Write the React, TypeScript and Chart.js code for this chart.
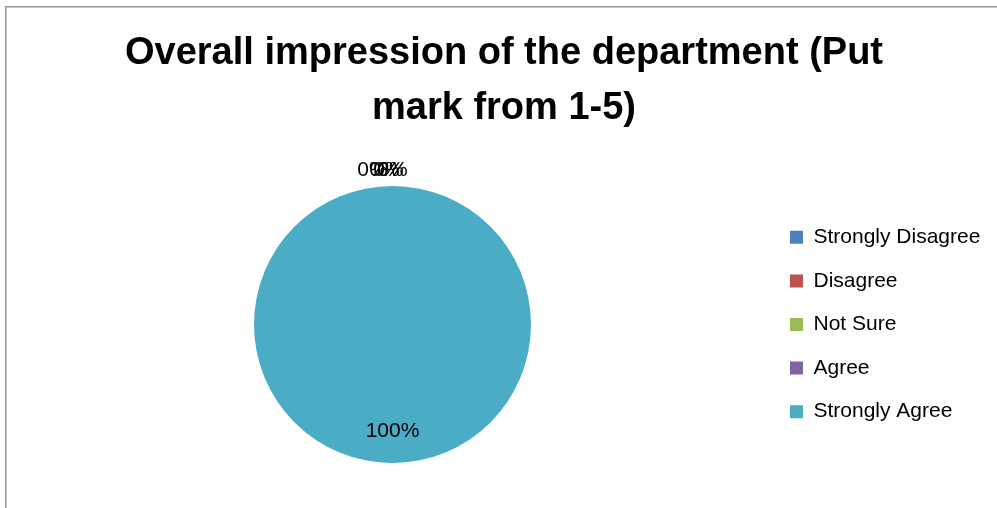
import React, { useEffect, useRef } from "react";
import { Chart, registerables } from "chart.js";

Chart.register(...registerables);

const categories = ["Strongly Disagree", "Disagree", "Not Sure", "Agree", "Strongly Agree"];
const values = [0, 0, 0, 0, 100];
const colors = ["#4F81BD", "#C0504D", "#9BBB59", "#8064A2", "#4BACC6"];
const titleLines = ["Overall impression of the department (Put", "mark from 1-5)"];

const FONT = "'Liberation Sans', Arial, sans-serif";

const borderPlugin = {
  id: "frameBorder",
  beforeDraw(chart: any) {
    const ctx = chart.ctx;
    ctx.save();
    ctx.fillStyle = "#ffffff";
    ctx.fillRect(0, 0, chart.width, chart.height);
    ctx.strokeStyle = "#959595";
    ctx.lineWidth = 1.5;
    ctx.beginPath();
    ctx.moveTo(0.75, chart.height);
    ctx.lineTo(0.75, 0.75);
    ctx.lineTo(chart.width, 0.75);
    ctx.stroke();
    ctx.restore();
  },
};

const zeroNudge = [-20, -8, -4, 0, 0];

const labelPlugin = {
  id: "pctLabels",
  afterDatasetsDraw(chart: any) {
    const ctx = chart.ctx;
    const meta = chart.getDatasetMeta(0);
    const data = chart.data.datasets[0].data as number[];
    const total = data.reduce((a, b) => a + b, 0);
    ctx.save();
    ctx.font = `21px ${FONT}`;
    ctx.fillStyle = "#000000";
    ctx.textAlign = "center";
    ctx.textBaseline = "middle";
    let zi = 0;
    meta.data.forEach((arc: any, i: number) => {
      const v = data[i];
      const pct = Math.round((v / total) * 100) + "%";
      const { x, y, startAngle, endAngle, outerRadius } = arc.getProps(
        ["x", "y", "startAngle", "endAngle", "outerRadius"],
        true
      );
      const mid = (startAngle + endAngle) / 2;
      if (v > 0) {
        const r = outerRadius * 0.77;
        ctx.fillText(pct, x + Math.cos(mid) * r, y + Math.sin(mid) * r);
      } else {
        const r = outerRadius + 16;
        ctx.fillText(pct, x + Math.cos(mid) * r + zeroNudge[zi], y + Math.sin(mid) * r);
        zi++;
      }
    });
    ctx.restore();
  },
};

export default function App() {
  const ref = useRef<HTMLCanvasElement | null>(null);
  useEffect(() => {
    if (!ref.current) return;
    const chart = new Chart(ref.current, {
      type: "pie",
      data: {
        labels: categories,
        datasets: [
          {
            data: values,
            backgroundColor: colors,
            borderWidth: 0,
            hoverOffset: 0,
          },
        ],
      },
      options: {
        responsive: false,
        animation: false,
        devicePixelRatio: 1,
        layout: { padding: { left: 12.6, right: 14.6, top: 0, bottom: 53 } },
        plugins: {
          title: {
            display: true,
            text: titleLines,
            color: "#000000",
            font: { family: FONT, size: 38, weight: "bold", lineHeight: 55 / 38 },
            padding: { top: 20.5, bottom: 49.5 },
          },
          legend: {
            display: true,
            position: "right",
            fullSize: false,
            labels: {
              boxWidth: 13,
              boxHeight: 13,
              padding: 22.6,
              color: "#000000",
              font: { family: FONT, size: 21 },
            },
          },
          tooltip: { enabled: false },
        },
      },
      plugins: [borderPlugin, labelPlugin],
    });
    return () => chart.destroy();
  }, []);
  return (
    <div
      style={{
        position: "fixed",
        left: 0,
        top: 0,
        width: 997,
        height: 508,
        overflow: "hidden",
        background: "#fff",
      }}
    >
      <canvas
        ref={ref}
        width={1000}
        height={510}
        style={{ position: "absolute", left: 5, top: 6, width: 1000, height: 510 }}
      />
    </div>
  );
}
